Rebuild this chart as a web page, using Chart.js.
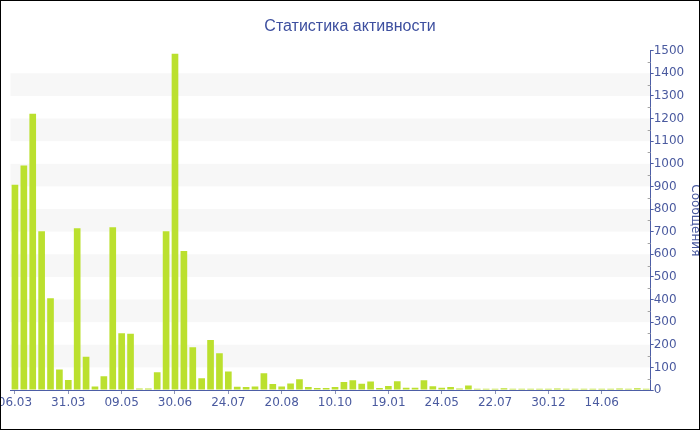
<!DOCTYPE html>
<html lang="ru">
<head>
<meta charset="utf-8">
<title>Статистика активности</title>
<script src="https://cdn.jsdelivr.net/npm/chart.js@4.4.1/dist/chart.umd.min.js"></script>
<style>
    html, body { margin: 0; padding: 0; background: #ffffff; }
    #wrap {
        width: 700px;
        height: 430px;
        box-sizing: border-box;
        border: 1px solid #000000;
        overflow: hidden;
    }
    canvas { display: block; }
</style>
</head>
<body>
<div id="wrap">
    <canvas id="grafico" width="698" height="428"></canvas>
</div>
<script>
// подписи оси X (видна каждая шестая дата)
const tickLabels = ['06.03', '31.03', '09.05', '30.06', '24.07', '20.08',
    '10.10', '19.01', '24.05', '22.07', '30.12', '14.06'];

// сообщения по периодам
const mensagens = [
    907, 992, 1221, 702, 406, 91, 44, 715, 147, 16, 61, 720,
    251, 249, 7, 7, 78, 702, 1487, 615, 189, 52, 221, 162,
    82, 14, 13, 16, 74, 27, 16, 29, 47, 13, 9, 9,
    13, 35, 43, 28, 38, 9, 18, 39, 10, 10, 43, 17,
    10, 13, 7, 20, 6, 6, 6, 8, 6, 6, 6, 6,
    6, 7, 6, 6, 6, 6, 6, 6, 7, 6, 8, 6
];

// категории: известные даты на каждой шестой позиции
const categorias = mensagens.map((v, i) => i % 6 === 0 ? tickLabels[i / 6] : '');

const corEixo = '#4d5ea6';
const corTexto = '#4a5a9f';
const corTick = '#8d96b8';

// полосы через одну + мелкие засечки на оси Y
const faixas = {
    id: 'faixas',
    beforeDraw(chart) {
        const { ctx, chartArea, scales: { y } } = chart;
        ctx.save();
        ctx.fillStyle = '#f7f7f7';
        for (let i = 1; i < y.ticks.length - 1; i += 2) {
            const top = y.getPixelForValue(y.ticks[i + 1].value);
            const bottom = y.getPixelForValue(y.ticks[i].value);
            ctx.fillRect(chartArea.left, top, chartArea.right - chartArea.left, bottom - top);
        }
        ctx.restore();
    },
    afterDraw(chart) {
        const { ctx, scales: { y } } = chart;
        ctx.save();
        ctx.strokeStyle = '#a4a4a4';
        ctx.lineWidth = 1;
        for (let i = 0; i < y.ticks.length - 1; i++) {
            const meio = (y.ticks[i].value + y.ticks[i + 1].value) / 2;
            const py = Math.round(y.getPixelForValue(meio)) + 0.5;
            ctx.beginPath();
            ctx.moveTo(y.left - 3, py);
            ctx.lineTo(y.left, py);
            ctx.stroke();
        }
        ctx.restore();
    }
};

const ctx = document.getElementById('grafico').getContext('2d');
new Chart(ctx, {
    type: 'bar',
    data: {
        labels: categorias,
        datasets: [{
            label: 'Сообщения',
            data: mensagens,
            backgroundColor: '#bbe02e',
            borderWidth: 0,
            barPercentage: 0.75,
            categoryPercentage: 1
        }]
    },
    options: {
        responsive: false,
        animation: false,
        layout: {
            // отрицательные отступы: заголовок по центру, подпись оси обрезана справа
            padding: { left: -7.6, right: -7.6, top: 0, bottom: 16.6 }
        },
        plugins: {
            legend: { display: false },
            tooltip: { enabled: false },
            title: {
                display: true,
                text: 'Статистика активности',
                color: '#3d4f9f',
                font: { family: 'Liberation Sans', size: 16, weight: 'normal' },
                padding: { top: 16.4, bottom: 14.1 }
            }
        },
        scales: {
            x: {
                grid: {
                    offset: false,
                    drawOnChartArea: false,
                    tickLength: 4,
                    tickColor: (c) => c.index % 6 === 0 ? corTick : 'transparent'
                },
                border: { color: corEixo, width: 1 },
                ticks: {
                    autoSkip: false,
                    minRotation: 0,
                    maxRotation: 0,
                    padding: 2,
                    color: corTexto,
                    font: { family: 'DejaVu Sans', size: 12 }
                },
                afterFit: (s) => { s.paddingLeft = 9.5; s.paddingRight = 0; }
            },
            y: {
                position: 'right',
                min: 0,
                max: 1500,
                grid: {
                    drawOnChartArea: false,
                    tickLength: 3,
                    tickColor: corEixo
                },
                border: { color: corEixo, width: 1 },
                ticks: {
                    stepSize: 100,
                    autoSkip: false,
                    padding: 0,
                    color: corTexto,
                    font: { family: 'DejaVu Sans', size: 12 },
                    callback: (v) => String(v)
                },
                title: {
                    display: true,
                    text: 'Сообщения',
                    color: corTexto,
                    font: { family: 'DejaVu Sans', size: 12 }
                }
            }
        }
    },
    plugins: [faixas]
});
</script>
</body>
</html>
